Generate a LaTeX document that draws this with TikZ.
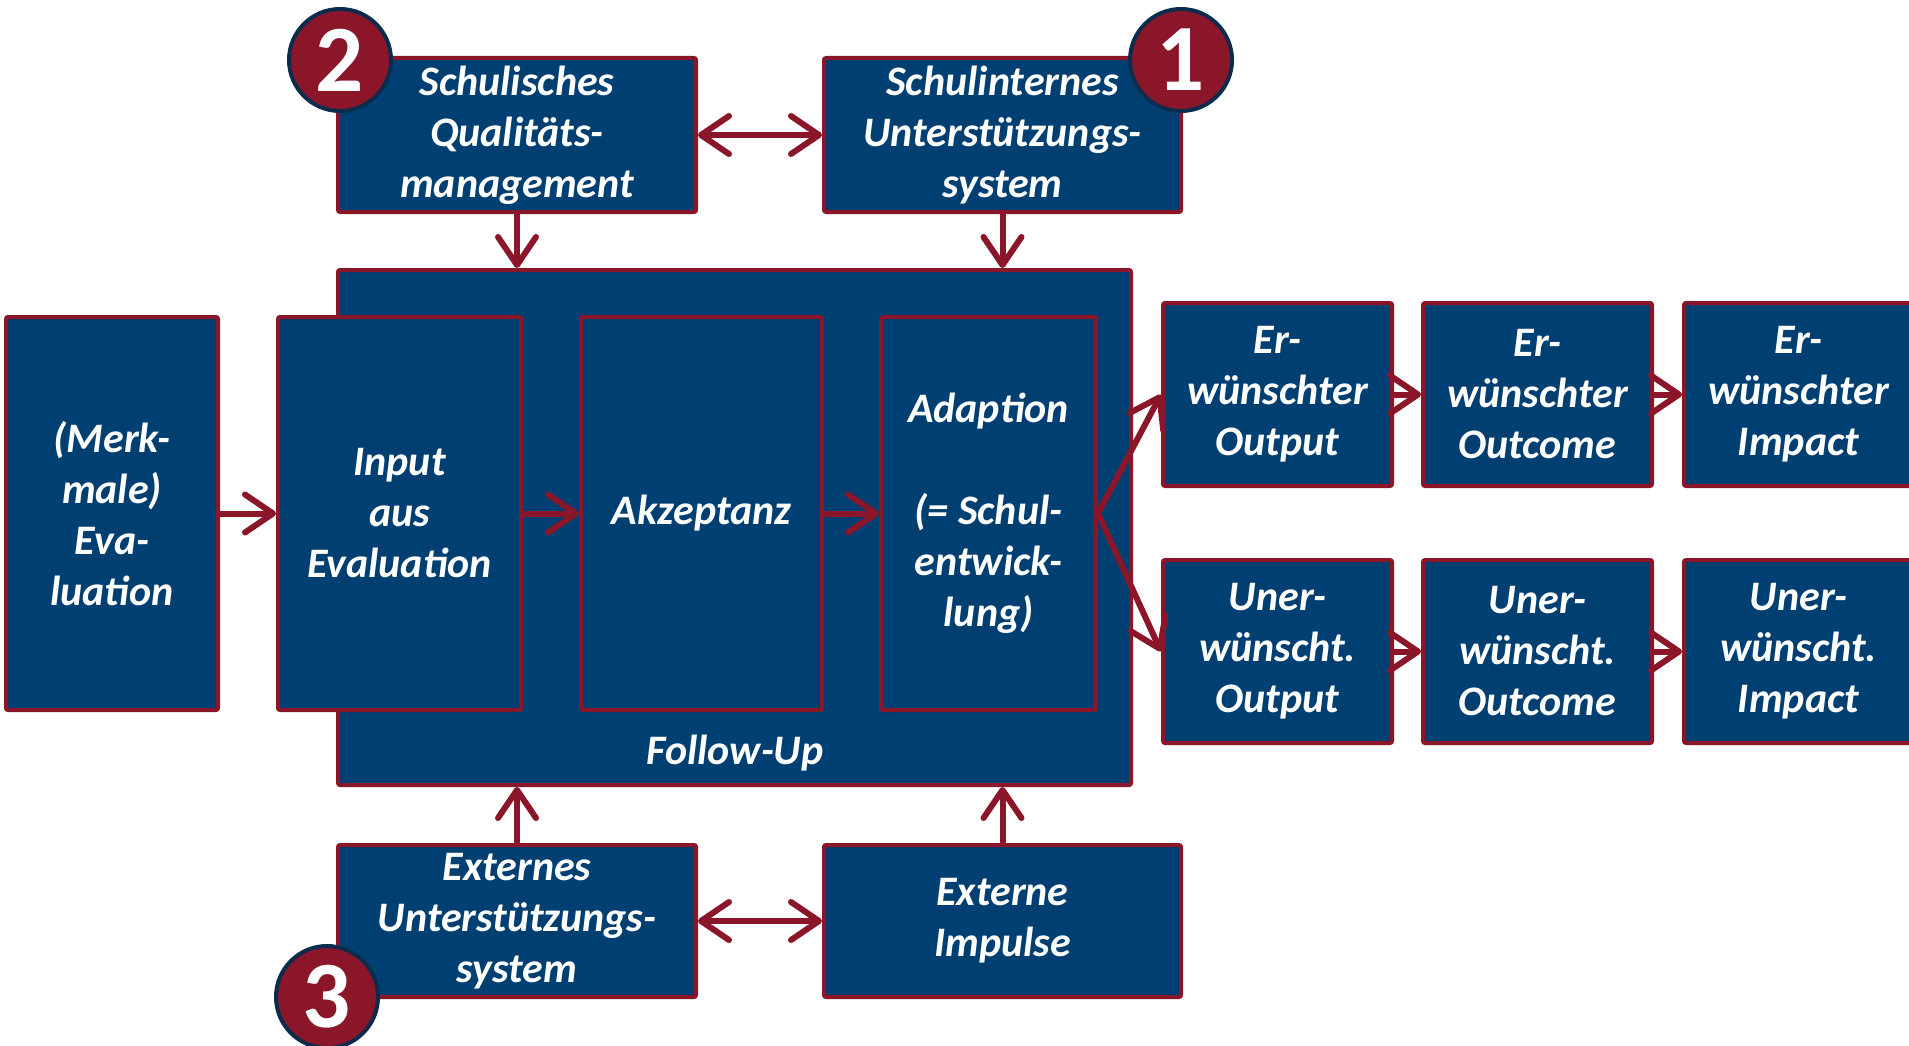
\documentclass[tikz,border=0pt]{standalone}
\usepackage{fontspec}
\setmainfont{Carlito}
\usepackage{tikz}
\usetikzlibrary{arrows.meta}
\usetikzlibrary{positioning}
\definecolor{navy}{RGB}{0,63,114}
\definecolor{crimson}{RGB}{139,22,42}
\definecolor{ringblue}{RGB}{12,44,78}
\newcommand{\boxfont}{\fontsize{42}{51}\selectfont\bfseries\itshape}
\tikzset{box/.style = {draw = crimson, fill = navy, line width = 4pt, rounded corners = 2pt,
    text = white, align = center, inner sep = 0, font = \boxfont},
  arr/.style = {draw = crimson, line width = 6pt, -{Straight Barb[round, length = 28pt, width = 38pt]}},
  darr/.style = {draw = crimson, line width = 6pt,
    {Straight Barb[round, length = 28pt, width = 38pt]}-{Straight Barb[round, length = 28pt, width = 38pt]}},
  num/.style = {circle, fill = crimson, draw = ringblue, line width = 4pt, minimum size = 102pt,
    inner sep = 0, text = white, font = \fontsize{95}{95}\selectfont\bfseries}}

\begin{document}
\begin{tikzpicture}[x=1pt, y=-1pt]
      \useasboundingbox (0, 0) rectangle (1909, 1046);

      % Follow-Up frame and its three stages
      \node [box, minimum width = 793, minimum height = 515] (follow) at (734.5, 527.5) {};
      \node [text = white, font = \boxfont] (fulabel) at (735, 753) {Follow-Up};
      \node [box, minimum width = 212, minimum height = 393] (eval) at (112, 513.5) {(Merk-\\male)\\Eva-\\luation};
      \node [box, minimum width = 243, minimum height = 393] (input) at (399.5, 513.5) {Input\\aus\\Evaluation};
      \node [box, minimum width = 241, minimum height = 393] (akz) at (701.5, 513.5) {Akzeptanz};
      \node [box, minimum width = 215, minimum height = 393] (adapt) at (988.5, 513.5) {Adaption\\\mbox{}\\(= Schul-\\entwick-\\lung)};

      % support systems
      \node [box, minimum width = 358, minimum height = 154] (sqm) at (517, 135) {Schulisches\\Qualitäts-\\management};
      \node [box, minimum width = 357, minimum height = 154] (sus) at (1002.5, 135) {Schulinternes\\Unterstützungs-\\system};
      \node [box, minimum width = 358, minimum height = 152] (ext) at (517, 921) {Externes\\Unterstützungs-\\system};
      \node [box, minimum width = 357, minimum height = 152] (imp) at (1002.5, 921) {Externe\\Impulse};

      % effects
      \foreach \x/\n/\t in {1277.5/out/Output, 1537.5/oc/Outcome, 1798.5/im/Impact} {
        \node [box, minimum width = 229, minimum height = 183] (\n1) at (\x, 394.5) {Er-\\wünschter\\\t};
        \node [box, minimum width = 229, minimum height = 183] (\n2) at (\x, 651.5) {Uner-\\wünscht.\\\t};
      }

      % connectors
      \draw [darr] (sqm) -- (sus);
      \draw [darr] (ext) -- (imp);
      \draw [arr] (sqm.south) -- (sqm.south |- follow.north);
      \draw [arr] (sus.south) -- (sus.south |- follow.north);
      \draw [arr] (ext.north) -- (ext.north |- follow.south);
      \draw [arr] (imp.north) -- (imp.north |- follow.south);
      \draw [arr] (eval) -- (input);
      \draw [arr] (input) -- (akz);
      \draw [arr] (akz) -- (adapt);
      \draw [arr] (adapt.east) -- (out1.west);
      \draw [arr] (adapt.east) -- (out2.west);
      \foreach \r in {1, 2} {
        \draw [arr] (out\r) -- (oc\r);
        \draw [arr] (oc\r) -- (im\r);
      }

      % numbered badges
      \node [num] (n1) at (1181, 60) {1};
      \node [num] (n2) at (340, 60) {2};
      \node [num] (n3) at (327, 997) {3};
    \end{tikzpicture}
\end{document}
